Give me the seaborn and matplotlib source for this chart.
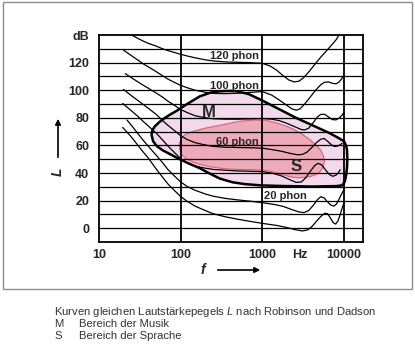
import pandas as pd
import seaborn as sns
from matplotlib import pyplot as plt
from matplotlib.patches import Rectangle

# Kurven gleichen Lautstaerkepegels (Robinson & Dadson)
f_120 = [25, 30, 35, 40, 50, 60, 70, 85, 100, 120, 150, 200, 250, 350, 500, 700, 1000,
         1250, 1500, 1800, 2100, 2450, 2800, 3200, 3800, 4500, 5200, 6000, 7000, 8000, 8700]
L_120 = [140, 137.5, 135.5, 134, 132, 130, 128.7, 127.2, 126, 124.8, 123.5, 122, 121.2, 120.5, 120.2, 120, 119.5,
         117.5, 114.5, 110.5, 107.5, 106, 106.5, 109, 114, 119.5, 124, 128, 132.5, 136.5, 140]

f_100 = [20, 25, 30, 35, 40, 50, 60, 70, 85, 100, 120, 150, 200, 250, 350, 500, 700, 1000,
         1300, 1600, 2000, 2300, 2600, 2900, 3300, 3800, 4500, 5200, 5800, 6500, 7200, 8000, 8700, 9300, 10000]
L_100 = [129, 125, 121.8, 119, 117, 113.5, 110.5, 108, 105.5, 103.5, 101.8, 100, 98.5, 97.7, 97.5, 97.8, 98.4, 99,
         96.5, 93, 89, 86.5, 85.5, 86.5, 90, 94.5, 100, 104, 105.8, 106, 105, 104.6, 106, 108, 111]

f_80 = [21, 25, 30, 35, 40, 50, 60, 70, 85, 100, 120, 150, 200, 250, 350, 500, 700, 1000,
        1300, 1600, 2000, 2500, 3000, 3300, 3700, 4200, 4700, 5200, 5800, 6500, 7200, 8000, 8800, 9500, 10000]
L_80 = [112, 109, 106, 103.5, 101.5, 98, 95, 92, 88.8, 86, 83.8, 81.5, 80, 79.3, 79, 79, 79.2, 79.5,
        79, 78, 76, 73.5, 71.5, 71.2, 72.5, 76.5, 80.5, 82.5, 82.5, 80.5, 78.7, 78.5, 80, 82, 84]

f_60 = [20, 25, 30, 35, 40, 50, 60, 70, 85, 100, 120, 150, 200, 250, 350, 500, 700, 1000,
        1300, 1700, 2200, 2700, 3100, 3500, 4000, 4600, 5200, 5700, 6300, 7000, 7600, 8300, 9000, 9500]
L_60 = [100.5, 96, 92.5, 89.5, 87, 82.5, 78, 74.5, 70.5, 67, 64.3, 62, 60.3, 59.3, 58.7, 58.5, 58.3, 58,
        57, 55.8, 54.2, 53.2, 53.5, 55, 58.2, 62, 64.5, 65, 63, 60.5, 59.2, 59.5, 60.5, 61.5]

f_40 = [19.5, 25, 30, 35, 40, 50, 60, 70, 85, 100, 120, 150, 200, 250, 350, 500, 700, 1000,
        1300, 1700, 2200, 2600, 3000, 3400, 3900, 4400, 4800, 5300, 5900, 6600, 7300, 8000, 8600, 9000]
L_40 = [90.4, 85, 81, 77.2, 74.2, 69, 64, 59.5, 54.5, 50.5, 47.5, 45, 43.5, 42.6, 42, 41.5, 41.3, 41,
        40, 38, 35, 33.2, 33.5, 36.5, 41.5, 45.5, 47, 46, 42.5, 39, 37.6, 38.5, 40.5, 42.4]

f_20 = [22, 25, 30, 35, 40, 50, 60, 70, 85, 100, 120, 150, 200, 250, 350, 500, 700, 1000,
        1400, 1800, 2300, 2800, 3250, 3700, 4200, 4700, 5200, 5700, 6300, 6900, 7500, 8100, 8700, 9300, 10000]
L_20 = [78.4, 74.5, 68.5, 63.5, 59.5, 53, 47.5, 42.5, 37.5, 33.5, 30.3, 27.5, 24.8, 23.2, 21.6, 20.5, 19.6, 18.5,
        17.2, 15.8, 13.5, 11.8, 11.3, 12.8, 16.5, 20.5, 22.8, 22, 19, 16.8, 16, 17.5, 21, 24.5, 28]

f_0 = [19.5, 25, 30, 35, 40, 50, 60, 70, 85, 100, 120, 150, 200, 250, 350, 500, 700, 1000,
       1500, 2000, 2500, 3100, 3600, 4100, 4600, 5200, 5800, 6300, 6800, 7400, 7900, 8400, 9000, 9500, 10000]
L_0 = [73, 66, 60, 55, 51, 43, 37, 32, 27, 23, 19.5, 16, 12.8, 10.5, 8.3, 6.5, 5, 3.5,
       2, 0.5, -1, -2, -1.2, 1.5, 5, 8.5, 10.8, 10.5, 7.5, 4, 3, 5, 10, 14.5, 18.7]

# Bereich der Musik (M) and Bereich der Sprache (S)
music_f = [44, 45, 48, 55, 64, 75, 89, 120, 171, 230, 299, 400, 482, 600, 694, 850, 1000,
           2600, 6570, 8500, 10000, 10600, 10900, 11000, 10900, 10600, 10200, 9500, 8000,
           4070, 2000, 972, 600, 431, 300, 220, 171, 130, 97, 75, 60, 51, 46]
music_L = [67.6, 71, 73.6, 77, 79.9, 82.5, 85, 90, 95.5, 98.2, 99.2, 99.5, 99.3, 98, 97, 94.5, 92.5,
           79.9, 69.1, 65.5, 63, 60, 56.8, 50, 44, 38, 33.5, 31, 30.5,
           30.2, 30.5, 31, 32, 33.3, 36, 40, 43.5, 46.5, 50, 53.5, 56.5, 59.5, 63]
speech_f = [97, 96, 100, 106, 120, 148, 200, 300, 525, 800, 1100, 1450, 2000, 2450, 3200,
            3930, 4600, 5200, 5600, 5750, 5600, 5200, 4600, 3930, 3300, 2730, 2300, 2030,
            1600, 1170, 800, 456, 300, 226, 170, 140, 120, 108, 100]
speech_L = [58, 61, 64, 66.5, 68.7, 70.5, 72.5, 74.5, 77.5, 78.4, 78.2, 76.5, 73.8, 71.5, 67.5,
            63.5, 60, 56.5, 52.5, 48.5, 44.5, 41.5, 39, 37.6, 36.8, 36.5, 37, 37.8,
            39.5, 41.6, 42.4, 42.6, 43.5, 44.6, 46.3, 48, 50, 52, 54.5]

y_ticks = [0, 20, 40, 60, 80, 100, 120, 140]
y_labels = ["0", "20", "40", "60", "80", "100", "120", "dB"]
x_ticks = [10, 100, 1000, 2900, 10000]
x_labels = ["10", "100", "1000", "Hz", "10000"]

contours = {
    120: (f_120, L_120),
    100: (f_100, L_100),
    80: (f_80, L_80),
    60: (f_60, L_60),
    40: (f_40, L_40),
    20: (f_20, L_20),
    0: (f_0, L_0),
}
df = pd.concat(
    [pd.DataFrame({"f": f, "L": L, "phon": p}) for p, (f, L) in contours.items()],
    ignore_index=True,
)

W, H = 415, 356


def fxy(x, y):
    # pixel position of the scan -> figure fraction
    return x / W, 1 - y / H


sns.set_style("white")
plt.rcParams["font.family"] = ["Liberation Sans", "DejaVu Sans"]
plt.rcParams["mathtext.fontset"] = "custom"
plt.rcParams["mathtext.rm"] = "Liberation Sans"
plt.rcParams["mathtext.it"] = "Liberation Sans:italic"

fig = plt.figure(figsize=(W / 100, H / 100), dpi=100)
ax = fig.add_axes([99 / W, 1 - 242 / H, 264 / W, 207 / H])
ax.set_xscale("log")

ax.fill(music_f, music_L, facecolor="#f2d9eb", edgecolor="black", lw=1.8,
        joinstyle="round", zorder=1)
ax.fill(speech_f, speech_L, facecolor="#ecaaba", edgecolor="#df5f70", lw=0.8,
        joinstyle="round", zorder=2)

for y in range(0, 140, 10):
    ax.axhline(y, color="black", lw=0.9, zorder=2.5)
for x in [100, 1000, 10000]:
    ax.axvline(x, color="black", lw=1.3, zorder=2.5)

sns.lineplot(data=df, x="f", y="L", units="phon", estimator=None, sort=False,
             color="black", lw=0.9, legend=False, ax=ax, zorder=3)

ax.set_xlim(10, 17100)
ax.set_ylim(-10, 140)
ax.minorticks_off()
ax.set_xticks(x_ticks)
ax.set_xticklabels(x_labels, fontweight="bold", fontsize=9)
ax.set_yticks(y_ticks)
ax.set_yticklabels(y_labels, fontweight="bold", fontsize=9)
ax.tick_params(axis="both", length=0)
ax.tick_params(axis="y", pad=7)
ax.tick_params(axis="x", pad=5)
ax.set_xlabel("")
ax.set_ylabel("")
for s in ax.spines.values():
    s.set_color("black")
    s.set_linewidth(1.3)
    s.set_zorder(4)

# curve labels
ax.text(456, 124.5, "120 phon", ha="center", va="center", fontsize=8, fontweight="bold", zorder=5)
ax.text(456, 103, "100 phon", ha="center", va="center", fontsize=8, fontweight="bold", zorder=5)
ax.text(495, 62.6, "60 phon", ha="center", va="center", fontsize=8, fontweight="bold", zorder=5)
ax.text(1905, 23, "20 phon", ha="center", va="center", fontsize=8, fontweight="bold", zorder=5)
ax.text(219, 84.2, "M", ha="center", va="center", fontsize=12, fontweight="bold", zorder=5)
ax.text(2600, 44.6, "S", ha="center", va="center", fontsize=12, fontweight="bold", zorder=5)

# axis names with arrows
fig.text(*fxy(203, 270), "f", ha="center", va="center", fontsize=10,
         fontweight="bold", style="italic")
ax.annotate("", xy=fxy(263, 270), xytext=fxy(215, 270), xycoords="figure fraction",
            textcoords="figure fraction", annotation_clip=False,
            arrowprops=dict(arrowstyle="-|>", color="black", lw=1.2, mutation_scale=8))
fig.text(*fxy(58, 172), "L", ha="center", va="center", fontsize=10,
         fontweight="bold", style="italic", rotation=90)
ax.annotate("", xy=fxy(58, 116), xytext=fxy(58, 160), xycoords="figure fraction",
            textcoords="figure fraction", annotation_clip=False,
            arrowprops=dict(arrowstyle="-|>", color="black", lw=1.2, mutation_scale=8))

# frame around the figure part
fig.add_artist(Rectangle(fxy(2.5, 289), 409.5 / W, 287 / H, transform=fig.transFigure,
                         fill=False, edgecolor="#8c8c8c", lw=1))

# caption
cap = dict(fontsize=8.1, color="#333333", va="center")
fig.text(*fxy(54, 312), r"Kurven gleichen Lautstärkepegels $\mathit{L}$ nach Robinson und Dadson", **cap)
fig.text(*fxy(54, 324), "M", **cap)
fig.text(*fxy(79, 324), "Bereich der Musik", **cap)
fig.text(*fxy(54, 336), "S", **cap)
fig.text(*fxy(79, 336), "Bereich der Sprache", **cap)

fig.savefig("out.png", dpi=100)
